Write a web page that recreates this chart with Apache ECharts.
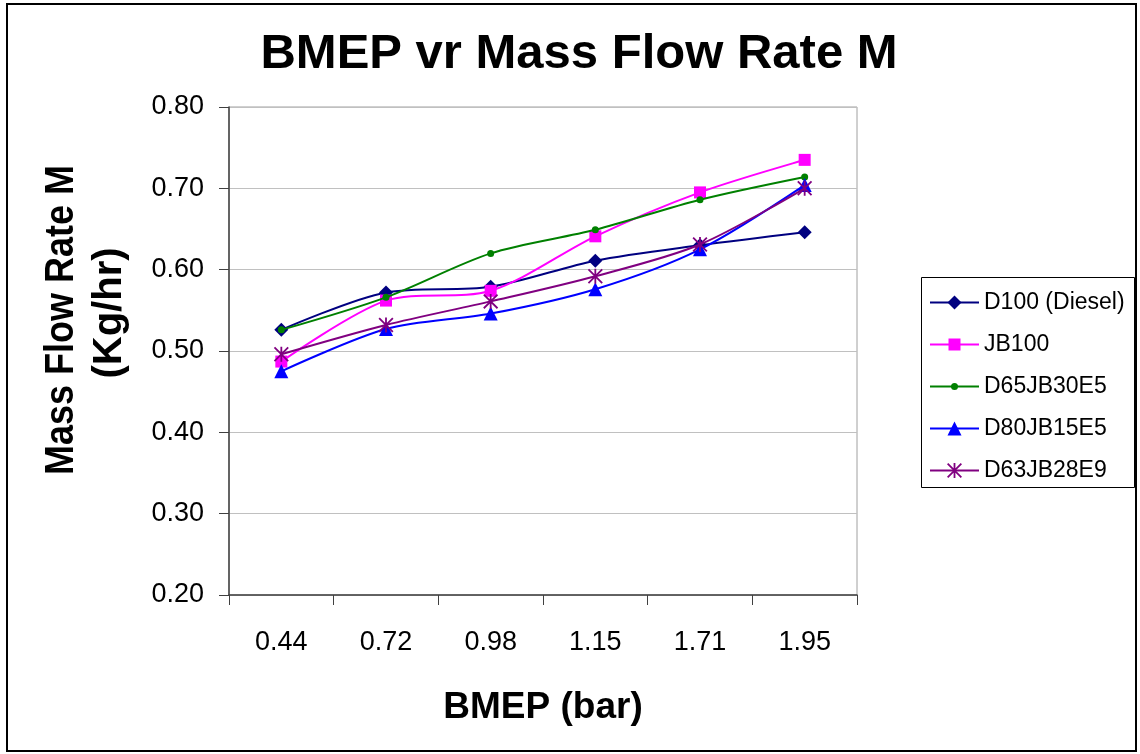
<!DOCTYPE html>
<html>
<head>
<meta charset="utf-8">
<script src="https://cdn.jsdelivr.net/npm/echarts@6/dist/echarts.min.js"></script>
<style>
html,body{margin:0;padding:0;background:#fff;}
#chart{width:1140px;height:754px;}
</style>
</head>
<body>
<div id="chart"></div>
<script>
const categories = ['0.44', '0.72', '0.98', '1.15', '1.71', '1.95'];
const seriesNames = ['D100 (Diesel)', 'JB100', 'D65JB30E5', 'D80JB15E5', 'D63JB28E9'];
const d100 = [0.526, 0.572, 0.579, 0.611, 0.630, 0.646];
const jb100 = [0.487, 0.562, 0.574, 0.641, 0.695, 0.735];
const d65jb30e5 = [0.526, 0.566, 0.620, 0.649, 0.686, 0.714];
const d80jb15e5 = [0.475, 0.527, 0.546, 0.576, 0.625, 0.704];
const d63jb28e9 = [0.496, 0.532, 0.561, 0.592, 0.631, 0.700];
const yTicks = [0.2, 0.3, 0.4, 0.5, 0.6, 0.7, 0.8];

const FONT = '"Liberation Sans", Arial, sans-serif';
const asterisk = 'path://M8.8 0L11.2 0L11.2 20L8.8 20Z M0 1.7L1.7 0L20 18.3L18.3 20Z M18.3 0L20 1.7L1.7 20L0 18.3Z';

const styles = [
  {color: '#000080', symbol: 'diamond', size: 14},
  {color: '#FF00FF', symbol: 'rect', size: 12},
  {color: '#008000', symbol: 'circle', size: 7},
  {color: '#0000FF', symbol: 'triangle', size: 14},
  {color: '#800080', symbol: asterisk, size: 15}
];
const allData = [d100, jb100, d65jb30e5, d80jb15e5, d63jb28e9];

// legend layout (one legend per row so each icon keeps its series marker size)
const legendLeft = 929, legendFirstRow = 301.5, legendRowStep = 42;
const legends = seriesNames.map((name, i) => {
  const h = styles[i].size / 0.8;
  return {
    orient: 'vertical',
    left: legendLeft,
    top: legendFirstRow + i * legendRowStep - 11,
    padding: 0,
    itemWidth: 49, itemHeight: h,
    textStyle: {fontFamily: FONT, fontSize: 23, color: '#000', lineHeight: 24},
    data: [name]
  };
});

const chart = echarts.init(document.getElementById('chart'), null, {renderer: 'canvas'});
chart.setOption({
  animation: false,
  backgroundColor: '#ffffff',
  title: {
    text: 'BMEP vr Mass Flow Rate M',
    left: 574,
    top: 25,
    textAlign: 'center',
    textStyle: {fontFamily: FONT, fontWeight: 'bold', fontSize: 49, color: '#000'}
  },
  grid: {
    left: 229, right: 283, top: 107, bottom: 159,
    show: true, borderColor: '#a0a0a0', borderWidth: 1, backgroundColor: 'transparent'
  },
  legend: legends,
  xAxis: {
    type: 'category',
    data: categories,
    boundaryGap: true,
    axisLine: {lineStyle: {color: '#404040', width: 1.5}},
    axisTick: {show: true, inside: false, length: 10, lineStyle: {color: '#404040'}},
    axisLabel: {fontFamily: FONT, fontSize: 27, color: '#000', margin: 34},
    splitLine: {show: false},
    name: 'BMEP (bar)',
    nameLocation: 'middle',
    nameGap: 94,
    nameTextStyle: {fontFamily: FONT, fontWeight: 'bold', fontSize: 37, color: '#000'}
  },
  yAxis: {
    type: 'value',
    min: yTicks[0], max: yTicks[yTicks.length - 1], interval: 0.1,
    axisLine: {show: true, lineStyle: {color: '#404040', width: 1.5}},
    axisTick: {show: true, inside: false, length: 10, lineStyle: {color: '#404040'}},
    axisLabel: {fontFamily: FONT, fontSize: 27, color: '#000', margin: 25,
      formatter: v => v.toFixed(2)},
    splitLine: {show: true, lineStyle: {color: '#c0c0c0', width: 1}}
  },
  graphic: [
    {type: 'rect', shape: {x: 7, y: 4, width: 1129, height: 747},
     style: {fill: 'none', stroke: '#000', lineWidth: 2}, silent: true, z: -1},
    {type: 'rect', shape: {x: 921.5, y: 277.5, width: 213, height: 210},
     style: {fill: 'none', stroke: '#000', lineWidth: 1}, silent: true, z: -1},
    {type: 'text', x: 62, y: 320, rotation: Math.PI / 2, scaleX: 0.9,
     style: {text: 'Mass Flow Rate M', font: 'bold 40px ' + FONT, fill: '#000',
             align: 'center', verticalAlign: 'middle'}},
    {type: 'text', x: 110, y: 313, rotation: Math.PI / 2,
     style: {text: '(Kg/hr)', font: 'bold 40px ' + FONT, fill: '#000',
             align: 'center', verticalAlign: 'middle'}}
  ],
  series: seriesNames.map((name, i) => ({
    name: name,
    type: 'line',
    data: allData[i],
    smooth: 0.3,
    symbol: styles[i].symbol,
    symbolSize: styles[i].size,
    showSymbol: true,
    lineStyle: {color: styles[i].color, width: 2},
    itemStyle: {color: styles[i].color},
    z: 2 + i
  }))
});
</script>
</body>
</html>
